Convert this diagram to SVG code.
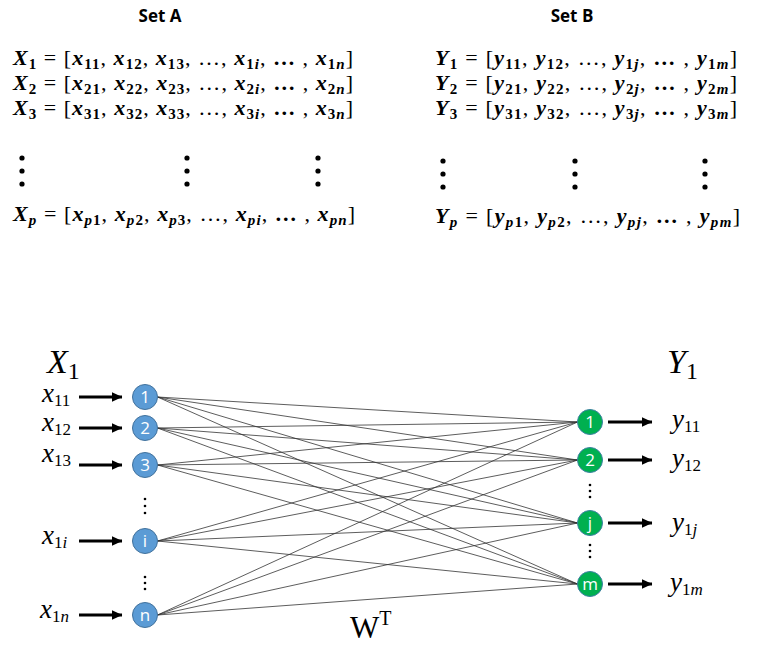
<svg xmlns="http://www.w3.org/2000/svg" width="767" height="652" viewBox="0 0 767 652">
<defs>
<style>
.title{font-family:"Open Sans","Liberation Sans",sans-serif;font-weight:bold;font-size:17px;fill:#000}
.eq{font-family:"Liberation Serif",serif;font-size:22px;fill:#000}
.v{font-weight:bold;font-style:italic}
.s{font-weight:bold;font-size:15px}
.si{font-weight:bold;font-style:italic;font-size:15px}
.lbl{font-family:"Liberation Serif",serif;font-style:italic;font-size:27px;fill:#000}
.lsub{font-style:normal;font-size:17px}
.lsubi{font-style:italic;font-size:17px}
.big{font-family:"Liberation Serif",serif;font-style:italic;font-size:34px;fill:#000}
.bigsub{font-style:normal;font-size:24px}
.nb{fill:#5B9BD5;stroke:#41719C;stroke-width:1}
.ng{fill:#00B050;stroke:#3A7FA0;stroke-width:1}
.nt{font-family:"Open Sans","Liberation Sans",sans-serif;font-size:17px;fill:#fff;text-anchor:middle}
.w{stroke:#333;stroke-width:0.8}
.arr{stroke:#000;stroke-width:3;marker-end:url(#ah)}
.dot{fill:#000}
</style>
<marker id="ah" markerWidth="4" markerHeight="4" refX="3.5" refY="2" orient="auto" markerUnits="strokeWidth">
<path d="M0,0.3 L3.6,2 L0,3.7 z" fill="#000"/>
</marker>
</defs>
<rect width="767" height="652" fill="#fff"/>

<g id="setA">
<text class="title" x="160" y="22" text-anchor="middle">Set A</text>
<text class="eq" x="13" y="65" textLength="340" lengthAdjust="spacing"><tspan class="v">X</tspan><tspan class="s" dy="4">1</tspan><tspan dy="-4"> = [</tspan><tspan class="v">x</tspan><tspan class="s" dy="4">11</tspan><tspan dy="-4">, </tspan><tspan class="v">x</tspan><tspan class="s" dy="4">12</tspan><tspan dy="-4">, </tspan><tspan class="v">x</tspan><tspan class="s" dy="4">13</tspan><tspan dy="-4">, …, </tspan><tspan class="v">x</tspan><tspan class="s" dy="4">1</tspan><tspan class="si">i</tspan><tspan dy="-4">, </tspan><tspan font-weight="bold">…</tspan><tspan> , </tspan><tspan class="v">x</tspan><tspan class="s" dy="4">1</tspan><tspan class="si">n</tspan><tspan dy="-4">]</tspan></text>
<text class="eq" x="13" y="90" textLength="340" lengthAdjust="spacing"><tspan class="v">X</tspan><tspan class="s" dy="4">2</tspan><tspan dy="-4"> = [</tspan><tspan class="v">x</tspan><tspan class="s" dy="4">21</tspan><tspan dy="-4">, </tspan><tspan class="v">x</tspan><tspan class="s" dy="4">22</tspan><tspan dy="-4">, </tspan><tspan class="v">x</tspan><tspan class="s" dy="4">23</tspan><tspan dy="-4">, …, </tspan><tspan class="v">x</tspan><tspan class="s" dy="4">2</tspan><tspan class="si">i</tspan><tspan dy="-4">, </tspan><tspan font-weight="bold">…</tspan><tspan> , </tspan><tspan class="v">x</tspan><tspan class="s" dy="4">2</tspan><tspan class="si">n</tspan><tspan dy="-4">]</tspan></text>
<text class="eq" x="13" y="115" textLength="340" lengthAdjust="spacing"><tspan class="v">X</tspan><tspan class="s" dy="4">3</tspan><tspan dy="-4"> = [</tspan><tspan class="v">x</tspan><tspan class="s" dy="4">31</tspan><tspan dy="-4">, </tspan><tspan class="v">x</tspan><tspan class="s" dy="4">32</tspan><tspan dy="-4">, </tspan><tspan class="v">x</tspan><tspan class="s" dy="4">33</tspan><tspan dy="-4">, …, </tspan><tspan class="v">x</tspan><tspan class="s" dy="4">3</tspan><tspan class="si">i</tspan><tspan dy="-4">, </tspan><tspan font-weight="bold">…</tspan><tspan> , </tspan><tspan class="v">x</tspan><tspan class="s" dy="4">3</tspan><tspan class="si">n</tspan><tspan dy="-4">]</tspan></text>
<circle class="dot" cx="22" cy="158" r="2.6"/><circle class="dot" cx="22" cy="171" r="2.6"/><circle class="dot" cx="22" cy="184" r="2.6"/>
<circle class="dot" cx="187" cy="158" r="2.6"/><circle class="dot" cx="187" cy="171" r="2.6"/><circle class="dot" cx="187" cy="184" r="2.6"/>
<circle class="dot" cx="318" cy="158" r="2.6"/><circle class="dot" cx="318" cy="171" r="2.6"/><circle class="dot" cx="318" cy="184" r="2.6"/>
<text class="eq" x="13" y="221" textLength="342" lengthAdjust="spacing"><tspan class="v">X</tspan><tspan class="si" dy="4">p</tspan><tspan dy="-4"> = [</tspan><tspan class="v">x</tspan><tspan class="si" dy="4">p</tspan><tspan class="s">1</tspan><tspan dy="-4">, </tspan><tspan class="v">x</tspan><tspan class="si" dy="4">p</tspan><tspan class="s">2</tspan><tspan dy="-4">, </tspan><tspan class="v">x</tspan><tspan class="si" dy="4">p</tspan><tspan class="s">3</tspan><tspan dy="-4">, …, </tspan><tspan class="v">x</tspan><tspan class="si" dy="4">pi</tspan><tspan dy="-4">, </tspan><tspan font-weight="bold">…</tspan><tspan> , </tspan><tspan class="v">x</tspan><tspan class="si" dy="4">pn</tspan><tspan dy="-4">]</tspan></text>
</g>

<g id="setB">
<text class="title" x="572" y="22" text-anchor="middle">Set B</text>
<text class="eq" x="435" y="65" textLength="302" lengthAdjust="spacing"><tspan class="v">Y</tspan><tspan class="s" dy="4">1</tspan><tspan dy="-4"> = [</tspan><tspan class="v">y</tspan><tspan class="s" dy="4">11</tspan><tspan dy="-4">, </tspan><tspan class="v">y</tspan><tspan class="s" dy="4">12</tspan><tspan dy="-4">, …, </tspan><tspan class="v">y</tspan><tspan class="s" dy="4">1</tspan><tspan class="si">j</tspan><tspan dy="-4">, </tspan><tspan font-weight="bold">…</tspan><tspan> , </tspan><tspan class="v">y</tspan><tspan class="s" dy="4">1</tspan><tspan class="si">m</tspan><tspan dy="-4">]</tspan></text>
<text class="eq" x="435" y="90" textLength="302" lengthAdjust="spacing"><tspan class="v">Y</tspan><tspan class="s" dy="4">2</tspan><tspan dy="-4"> = [</tspan><tspan class="v">y</tspan><tspan class="s" dy="4">21</tspan><tspan dy="-4">, </tspan><tspan class="v">y</tspan><tspan class="s" dy="4">22</tspan><tspan dy="-4">, …, </tspan><tspan class="v">y</tspan><tspan class="s" dy="4">2</tspan><tspan class="si">j</tspan><tspan dy="-4">, </tspan><tspan font-weight="bold">…</tspan><tspan> , </tspan><tspan class="v">y</tspan><tspan class="s" dy="4">2</tspan><tspan class="si">m</tspan><tspan dy="-4">]</tspan></text>
<text class="eq" x="435" y="115" textLength="302" lengthAdjust="spacing"><tspan class="v">Y</tspan><tspan class="s" dy="4">3</tspan><tspan dy="-4"> = [</tspan><tspan class="v">y</tspan><tspan class="s" dy="4">31</tspan><tspan dy="-4">, </tspan><tspan class="v">y</tspan><tspan class="s" dy="4">32</tspan><tspan dy="-4">, …, </tspan><tspan class="v">y</tspan><tspan class="s" dy="4">3</tspan><tspan class="si">j</tspan><tspan dy="-4">, </tspan><tspan font-weight="bold">…</tspan><tspan> , </tspan><tspan class="v">y</tspan><tspan class="s" dy="4">3</tspan><tspan class="si">m</tspan><tspan dy="-4">]</tspan></text>
<circle class="dot" cx="443" cy="161" r="2.6"/><circle class="dot" cx="443" cy="174" r="2.6"/><circle class="dot" cx="443" cy="187" r="2.6"/>
<circle class="dot" cx="575" cy="161" r="2.6"/><circle class="dot" cx="575" cy="174" r="2.6"/><circle class="dot" cx="575" cy="187" r="2.6"/>
<circle class="dot" cx="705" cy="161" r="2.6"/><circle class="dot" cx="705" cy="174" r="2.6"/><circle class="dot" cx="705" cy="187" r="2.6"/>
<text class="eq" x="435" y="223" textLength="305" lengthAdjust="spacing"><tspan class="v">Y</tspan><tspan class="si" dy="4">p</tspan><tspan dy="-4"> = [</tspan><tspan class="v">y</tspan><tspan class="si" dy="4">p</tspan><tspan class="s">1</tspan><tspan dy="-4">, </tspan><tspan class="v">y</tspan><tspan class="si" dy="4">p</tspan><tspan class="s">2</tspan><tspan dy="-4">, …, </tspan><tspan class="v">y</tspan><tspan class="si" dy="4">pj</tspan><tspan dy="-4">, </tspan><tspan font-weight="bold">…</tspan><tspan> , </tspan><tspan class="v">y</tspan><tspan class="si" dy="4">pm</tspan><tspan dy="-4">]</tspan></text>
</g>

<g id="connectors">
<g id="weights" class="w">
<line x1="157.5" y1="397" x2="577.5" y2="422"/><line x1="157.5" y1="397" x2="577.5" y2="460"/><line x1="157.5" y1="397" x2="577.5" y2="523"/><line x1="157.5" y1="397" x2="577.5" y2="584"/>
<line x1="157.5" y1="428" x2="577.5" y2="422"/><line x1="157.5" y1="428" x2="577.5" y2="460"/><line x1="157.5" y1="428" x2="577.5" y2="523"/><line x1="157.5" y1="428" x2="577.5" y2="584"/>
<line x1="157.5" y1="465" x2="577.5" y2="422"/><line x1="157.5" y1="465" x2="577.5" y2="460"/><line x1="157.5" y1="465" x2="577.5" y2="523"/><line x1="157.5" y1="465" x2="577.5" y2="584"/>
<line x1="157.5" y1="541" x2="577.5" y2="422"/><line x1="157.5" y1="541" x2="577.5" y2="460"/><line x1="157.5" y1="541" x2="577.5" y2="523"/><line x1="157.5" y1="541" x2="577.5" y2="584"/>
<line x1="157.5" y1="615" x2="577.5" y2="422"/><line x1="157.5" y1="615" x2="577.5" y2="460"/><line x1="157.5" y1="615" x2="577.5" y2="523"/><line x1="157.5" y1="615" x2="577.5" y2="584"/>
</g>
<g id="arrows">
<line class="arr" x1="79" y1="397" x2="122" y2="397"/>
<line class="arr" x1="79" y1="428" x2="122" y2="428"/>
<line class="arr" x1="79" y1="465" x2="122" y2="465"/>
<line class="arr" x1="79" y1="541" x2="122" y2="541"/>
<line class="arr" x1="79" y1="615" x2="122" y2="615"/>
<line class="arr" x1="608" y1="422" x2="652" y2="422"/>
<line class="arr" x1="608" y1="460" x2="652" y2="460"/>
<line class="arr" x1="608" y1="523" x2="652" y2="523"/>
<line class="arr" x1="608" y1="584" x2="652" y2="584"/>
</g>
</g>

<g id="labels">
<text class="big" x="47" y="373">X<tspan class="bigsub" dy="6">1</tspan></text>
<text class="big" x="667" y="373">Y<tspan class="bigsub" dy="6">1</tspan></text>
<text class="lbl" x="42" y="402">x<tspan class="lsub" dy="4">11</tspan></text>
<text class="lbl" x="42" y="431">x<tspan class="lsub" dy="4">12</tspan></text>
<text class="lbl" x="42" y="462">x<tspan class="lsub" dy="4">13</tspan></text>
<text class="lbl" x="42" y="544">x<tspan class="lsub" dy="4">1</tspan><tspan class="lsubi">i</tspan></text>
<text class="lbl" x="40" y="618">x<tspan class="lsub" dy="4">1</tspan><tspan class="lsubi">n</tspan></text>
<text class="lbl" x="672" y="428">y<tspan class="lsub" dy="4">11</tspan></text>
<text class="lbl" x="672" y="467">y<tspan class="lsub" dy="4">12</tspan></text>
<text class="lbl" x="672" y="531">y<tspan class="lsub" dy="4">1</tspan><tspan class="lsubi">j</tspan></text>
<text class="lbl" x="670" y="591">y<tspan class="lsub" dy="4">1</tspan><tspan class="lsubi">m</tspan></text>
<text x="350" y="638" font-family="Liberation Serif, serif" font-size="31">W<tspan font-size="20" dy="-13">T</tspan></text>
<circle class="dot" cx="145" cy="499" r="1.3"/><circle class="dot" cx="145" cy="506" r="1.3"/><circle class="dot" cx="145" cy="513" r="1.3"/>
<circle class="dot" cx="145" cy="577" r="1.3"/><circle class="dot" cx="145" cy="583" r="1.3"/><circle class="dot" cx="145" cy="589" r="1.3"/>
<circle class="dot" cx="590" cy="485" r="1.3"/><circle class="dot" cx="590" cy="491" r="1.3"/><circle class="dot" cx="590" cy="497" r="1.3"/>
<circle class="dot" cx="590" cy="545" r="1.3"/><circle class="dot" cx="590" cy="551" r="1.3"/><circle class="dot" cx="590" cy="557" r="1.3"/>
</g>

<g id="in1"><circle class="nb" cx="145" cy="397" r="12.5"/><text class="nt" x="145" y="403">1</text></g>
<g id="in2"><circle class="nb" cx="145" cy="428" r="12.5"/><text class="nt" x="145" y="434">2</text></g>
<g id="in3"><circle class="nb" cx="145" cy="465" r="12.5"/><text class="nt" x="145" y="471">3</text></g>
<g id="ini"><circle class="nb" cx="145" cy="541" r="12.5"/><text class="nt" x="145" y="547">i</text></g>
<g id="inn"><circle class="nb" cx="145" cy="615" r="12.5"/><text class="nt" x="145" y="621">n</text></g>
<g id="out1"><circle class="ng" cx="590" cy="422" r="12.5"/><text class="nt" x="590" y="428">1</text></g>
<g id="out2"><circle class="ng" cx="590" cy="460" r="12.5"/><text class="nt" x="590" y="466">2</text></g>
<g id="outj"><circle class="ng" cx="590" cy="523" r="12.5"/><text class="nt" x="590" y="529">j</text></g>
<g id="outm"><circle class="ng" cx="590" cy="584" r="12.5"/><text class="nt" x="590" y="590">m</text></g>
</svg>
